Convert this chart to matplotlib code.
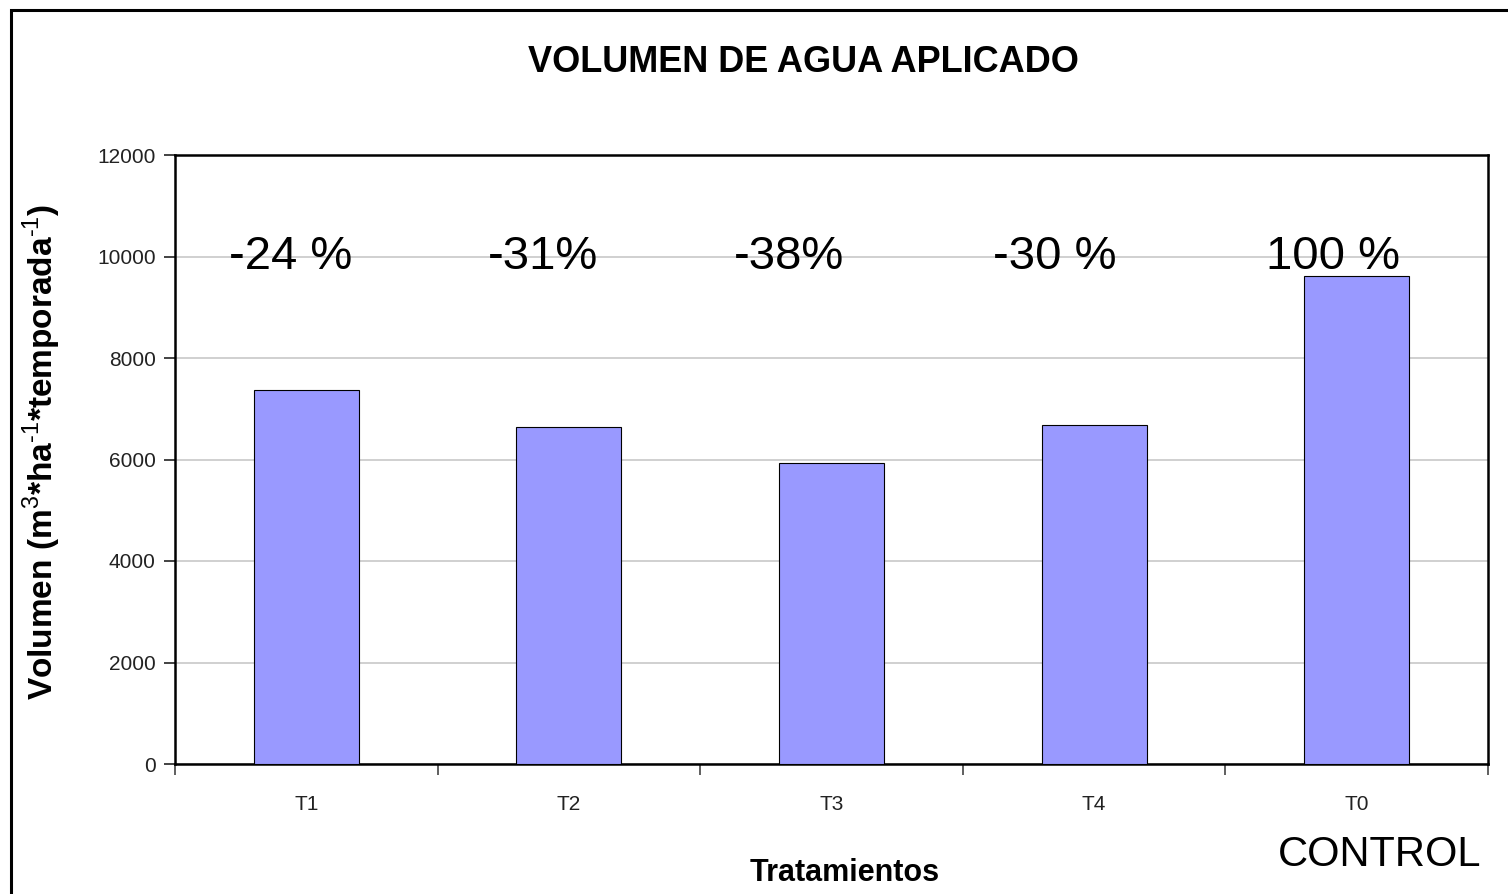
import matplotlib
matplotlib.use("Agg")
from matplotlib import pyplot as plt
from matplotlib.patches import Rectangle
import numpy as np

# data
tratamientos = ["T1", "T2", "T3", "T4", "T0"]
volumen = [7370, 6640, 5930, 6680, 9615]
etiquetas = ["-24 %", "-31%", "-38%", "-30 %", "100 %"]
etiq_dx = [-0.06, -0.10, -0.16, -0.15, -0.09]

plt.rcParams['font.family'] = ['Liberation Sans', 'DejaVu Sans']
plt.rcParams['mathtext.fontset'] = 'custom'
plt.rcParams['mathtext.rm'] = 'Liberation Sans'
plt.rcParams['mathtext.bf'] = 'Liberation Sans:bold'

W, H = 1508, 894
fig = plt.figure(figsize=(W / 100, H / 100), dpi=100)
ax = fig.add_axes([175 / W, 1 - 764 / H, (1488 - 175) / W, (764 - 155) / H])

# outer frame of the chart object (right/bottom edges cut off)
fig.patches.append(Rectangle((11 / W, -0.1), 1.2, 1 - 10 / H + 0.1,
                             transform=fig.transFigure, fill=False,
                             edgecolor='black', lw=2.2))

x = np.arange(len(tratamientos))
ax.bar(x, volumen, width=0.4, color='#9999FF', edgecolor='black', lw=0.8, zorder=3)

ax.set_xlim(-0.5, len(tratamientos) - 0.5)
ax.set_ylim(0, 12000)
ax.set_yticks(np.arange(0, 12001, 2000))
ax.yaxis.grid(True, color='#c8c8c8', lw=1.2, zorder=0)
ax.set_axisbelow(True)

# ticks between categories, labels at centres
ax.set_xticks(np.arange(-0.5, len(tratamientos), 1.0))
ax.set_xticklabels([])
ax.set_xticks(x, minor=True)
ax.set_xticklabels(tratamientos, minor=True, fontsize=15, color='#222222')
ax.tick_params(axis='x', which='major', length=8, width=1.2, direction='out', color='#444444')
ax.tick_params(axis='x', which='minor', length=0, pad=22)
ax.tick_params(axis='y', length=8, width=1.2, labelsize=15, pad=6, colors='#222222')
for s in ax.spines.values():
    s.set_linewidth(1.8)
    s.set_color('black')

for i, (t, dx) in enumerate(zip(etiquetas, etiq_dx)):
    ax.text(i + dx, 10000, t, ha='center', va='center', fontsize=34, zorder=4)

fig.text(803 / W, 1 - 63 / H, "VOLUMEN DE AGUA APLICADO", ha='center', va='center',
         fontsize=26, fontweight='bold')
fig.text(42 / W, 1 - 452 / H,
         r"Volumen (m$^{\text{3}}$*ha$^{\text{-1}}$*temporada$^{\text{-1}}$)",
         ha='center', va='center', rotation=90, fontsize=24, fontweight='bold')
fig.text(845 / W, 1 - 873 / H, "Tratamientos", ha='center', va='center',
         fontsize=22, fontweight='bold')
fig.text(1380 / W, 1 - 855 / H, "CONTROL", ha='center', va='center', fontsize=30)

plt.savefig('out.png', dpi=100)
